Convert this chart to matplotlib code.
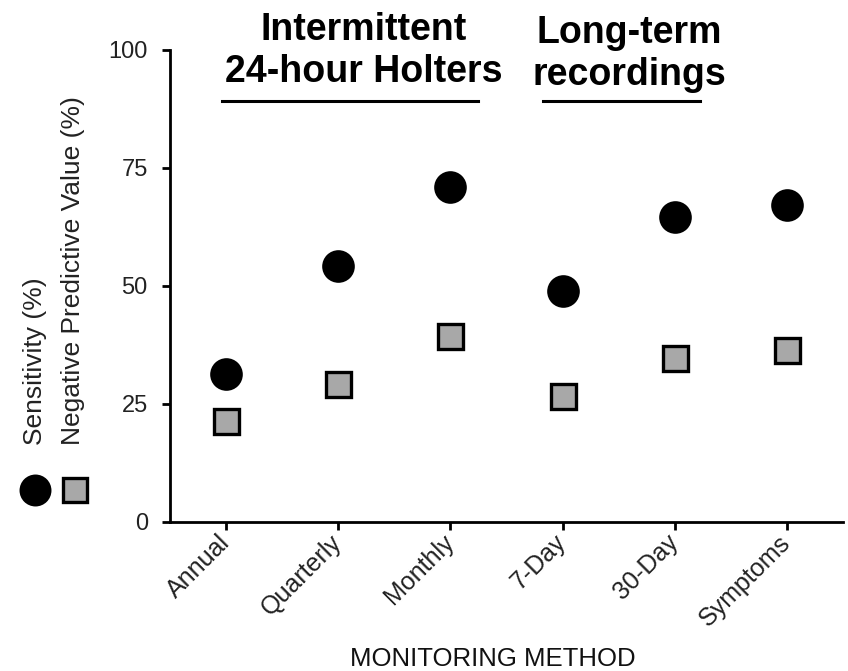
import matplotlib
matplotlib.use("Agg")
import matplotlib.pyplot as plt
from matplotlib.lines import Line2D
from matplotlib.transforms import ScaledTranslation

plt.rcParams['font.family'] = ['Liberation Sans', 'DejaVu Sans']

categories = ["Annual", "Quarterly", "Monthly", "7-Day", "30-Day", "Symptoms"]
sensitivity = [31.4, 54.2, 71.0, 48.9, 64.6, 67.1]
npv = [21.4, 29.2, 39.4, 26.8, 34.8, 36.4]
yticks = [0, 25, 50, 75, 100]

W, H = 848, 671
fig = plt.figure(figsize=(W / 100, H / 100), dpi=100)
ax = fig.add_axes([170 / W, (H - 522) / H, 673 / W, 472 / H])

x = list(range(len(categories)))
ax.plot(x, sensitivity, linestyle='none', marker='o', markersize=23.5,
        markerfacecolor='black', markeredgecolor='black', markeredgewidth=0,
        clip_on=False, zorder=3)
ax.plot(x, npv, linestyle='none', marker='s', markersize=18,
        markerfacecolor='#a8a8a8', markeredgecolor='black', markeredgewidth=2.4,
        clip_on=False, zorder=3)

ax.set_xlim(-0.5, 5.5)
ax.set_ylim(0, 100)
ax.set_yticks(yticks)
ax.set_yticklabels([str(v) for v in yticks])
ax.set_xticks(x)
ax.set_xticklabels(categories, rotation=45, ha='right', va='center',
                   rotation_mode='anchor')
shift = ScaledTranslation(6 / 100, 0, fig.dpi_scale_trans)
for lab in ax.get_xticklabels():
    lab.set_transform(lab.get_transform() + shift)

for s in ['top', 'right']:
    ax.spines[s].set_visible(False)
for s in ['left', 'bottom']:
    ax.spines[s].set_linewidth(2.0)
ax.tick_params(axis='both', width=2.0, length=6.0, color='black',
               labelcolor='#222222')
ax.tick_params(axis='y', pad=10, labelsize=17)
ax.tick_params(axis='x', pad=6, labelsize=18)

ax.set_xlabel("MONITORING METHOD", fontsize=18.5, color='#111111')
ax.xaxis.label.set_va('baseline')
ax.xaxis.set_label_coords((493 - 170) / 673, (522 - 666) / 472)

# Rotated two-line y label
fig.text(35 / W, 1 - 445 / H, "Sensitivity (%)", rotation=90, fontsize=19,
         ha='center', va='bottom', color='#222222')
fig.text(73 / W, 1 - 445 / H, "Negative Predictive Value (%)", rotation=90,
         fontsize=19, ha='center', va='bottom', color='#222222')

# Legend key markers
fig.add_artist(Line2D([35 / W], [1 - 490 / H], transform=fig.transFigure,
                      linestyle='none', marker='o', markersize=23,
                      markerfacecolor='black', markeredgewidth=0))
fig.add_artist(Line2D([75 / W], [1 - 490 / H], transform=fig.transFigure,
                      linestyle='none', marker='s', markersize=17.5,
                      markerfacecolor='#a8a8a8', markeredgecolor='black',
                      markeredgewidth=2.4))

# Group headers
fig.text(364 / W, 1 - 51 / H, "Intermittent\n24-hour Holters", fontsize=27,
         fontweight='bold', ha='center', va='center', linespacing=1.2)
fig.text(629 / W, 1 - 54 / H, "Long-term\nrecordings", fontsize=27,
         fontweight='bold', ha='center', va='center', linespacing=1.2)
fig.add_artist(Line2D([222 / W, 478 / W], [1 - 101 / H, 1 - 101 / H],
                      transform=fig.transFigure, color='black', linewidth=2.2))
fig.add_artist(Line2D([543 / W, 700 / W], [1 - 101 / H, 1 - 101 / H],
                      transform=fig.transFigure, color='black', linewidth=2.2))

fig.savefig("out.png", dpi=100)
